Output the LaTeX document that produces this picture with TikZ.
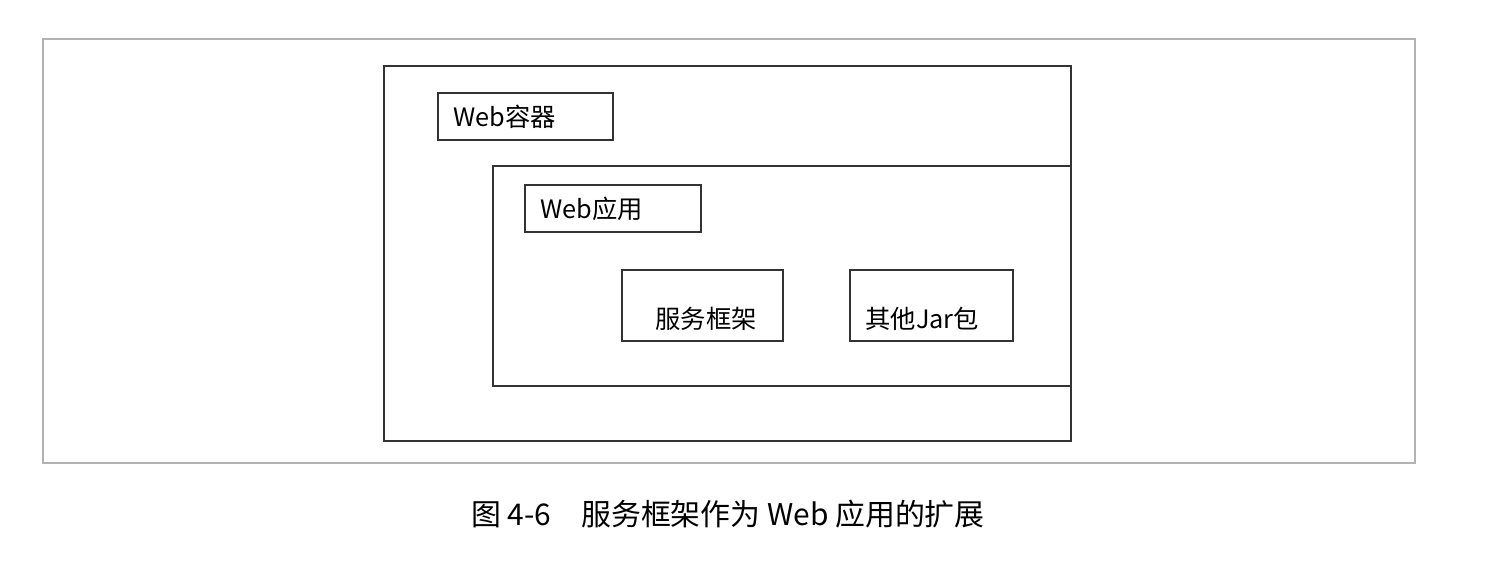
\documentclass[tikz,border=0pt]{standalone}
\usepackage{fontspec}
\setmainfont{Noto Sans CJK SC}
\newfontfamily\capfont{Noto Sans CJK SC}
\usetikzlibrary{positioning}
\tikzset{
  frame/.style={draw=black!80,line width=0.8pt},
  labelbox/.style={draw=black!80,line width=0.8pt,inner sep=0pt},
  lbl/.style={font=\fontsize{7.2pt}{9pt}\selectfont,anchor=west}
}
\begin{document}
\begin{tikzpicture}[x=0.01cm,y=-0.01cm]
\useasboundingbox (0,0) rectangle (1496,572);
% outer frame
\draw[draw=black!30,line width=0.6pt] (43,39) rectangle (1415,463);
% web container
\draw[frame] (384,66) rectangle (1071,441);
\draw[labelbox] (438,93) rectangle (613,140);
\node[lbl] (webc) at (441,117) {Web容器};
% web application
\draw[frame] (493,166) rectangle (1071,386);
\draw[labelbox] (525,185) rectangle (701,232);
\node[lbl] (weba) at (528,209) {Web应用};
% inner boxes
\draw[labelbox] (622,270) rectangle (783,341);
\node[lbl] (svc) at (643,319) {服务框架};
\draw[labelbox] (850,270) rectangle (1013,341);
\node[lbl] (jar) at (853,319) {其他Jar包};
% caption
\node[font=\fontsize{8.5pt}{10pt}\capfont] (cap) at (728,514) {图 4-6\quad 服务框架作为 Web 应用的扩展};
\end{tikzpicture}
\end{document}
